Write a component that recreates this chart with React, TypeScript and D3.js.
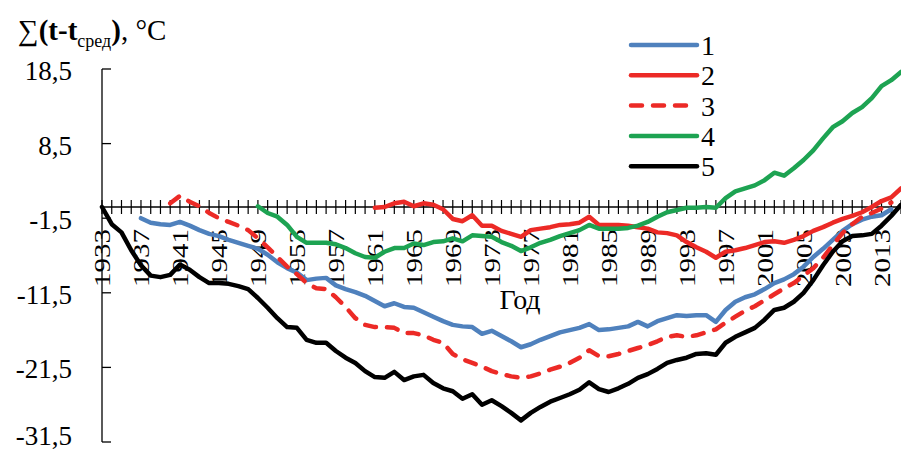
import React from "react";
import * as d3 from "d3";

// Cumulative sums of temperature deviations, °C, one value per year
const years = d3.range(1933, 2016);

const start1 = 1937;
const series1 = [
  -1.5, -2.1, -2.3,
  -2.4, -2.0, -2.5, -3.1, -3.6, -3.9, -4.4, -4.8, -5.2, -5.6,
  -6.4, -7.4, -8.2, -8.8, -9.8, -9.6, -9.5, -10.5, -11.0, -11.4,
  -11.9, -12.6, -13.3, -12.9, -13.4, -13.5, -14.1, -14.7, -15.3, -15.8,
  -16.0, -16.1, -17.0, -16.6, -17.3, -18.0, -18.8, -18.4, -17.8, -17.3,
  -16.8, -16.5, -16.2, -15.7, -16.5, -16.4, -16.2, -16.0, -15.4, -16.0,
  -15.3, -14.9, -14.5, -14.6, -14.5, -14.5, -15.4, -13.8, -12.7, -12.1,
  -11.7, -11.0, -10.2, -9.7, -9.0, -8.0, -6.7, -5.6, -4.4, -3.2,
  -2.3, -1.7, -1.3, -1.1, -0.3,
];

const start2 = 1961;
const series2 = [
  -0.1, 0.0, 0.5, 0.7, 0.1, 0.5, 0.3, -0.3, -1.6,
  -1.9, -1.1, -2.5, -2.5, -3.2, -3.6, -4.0, -3.1, -2.9, -2.7,
  -2.4, -2.3, -2.1, -1.3, -2.4, -2.4, -2.4, -2.5, -2.7, -2.9,
  -3.4, -3.5, -3.8, -4.7, -5.4, -6.0, -6.8, -6.0, -5.8, -5.5,
  -5.1, -4.7, -4.6, -4.8, -4.4, -3.9, -3.2, -2.7, -2.1, -1.6,
  -1.2, -0.7, 0.0, 0.8, 1.3, 2.5,
];

const start3 = 1940;
const series3 = [
  0.5, 1.5, 0.7, 0.1, -0.8, -1.5, -2.0, -2.5, -3.1, -4.2,
  -5.4, -6.7, -8.0, -9.0, -10.2, -10.9, -11.0, -12.1, -13.4, -14.9,
  -15.8, -16.1, -16.1, -16.2, -16.9, -16.9, -17.2, -17.8, -18.2, -19.7,
  -20.4, -20.9, -21.4, -22.0, -22.4, -22.7, -22.9, -22.7, -22.3, -21.8,
  -21.4, -20.9, -20.2, -19.2, -20.0, -20.0, -19.7, -19.3, -18.9, -18.5,
  -18.0, -17.4, -17.2, -17.4, -17.2, -16.8, -16.4, -15.5, -14.7, -13.9,
  -13.3, -12.5, -11.7, -10.9, -10.2, -9.2, -8.2, -6.8, -5.1, -3.5,
  -2.3, -1.3, -0.8, -0.2, 0.6,
];

const start4 = 1949;
const series4 = [
  0.1,
  -0.8, -1.3, -2.4, -4.0, -4.8, -4.8, -4.8, -5.0, -5.5, -6.2,
  -6.7, -6.8, -6.0, -5.5, -5.5, -4.9, -5.1, -4.7, -4.6, -4.2,
  -4.6, -3.8, -3.9, -4.0, -4.7, -5.2, -5.9, -5.4, -4.8, -4.4,
  -3.9, -3.5, -3.1, -2.4, -2.9, -2.9, -2.9, -2.8, -2.5, -2.0,
  -1.3, -0.7, -0.4, -0.1, -0.1, 0.0, -0.1, 1.2, 2.1, 2.5,
  2.9, 3.6, 4.6, 4.2, 5.2, 6.3, 7.6, 9.2, 10.7, 11.5,
  12.6, 13.4, 14.6, 16.2, 17.0, 18.1,
];

const start5 = 1933;
const series5 = [
  0.0, -2.3, -3.4, -5.8, -7.8, -9.2, -9.4,
  -9.1, -7.7, -8.4, -9.4, -10.2, -10.2, -10.3, -10.6, -11.0, -12.2,
  -13.5, -14.9, -16.1, -16.2, -17.8, -18.2, -18.2, -19.3, -20.2, -20.9,
  -22.0, -22.8, -22.9, -22.1, -23.2, -22.7, -22.5, -23.6, -24.3, -24.7,
  -25.7, -25.1, -26.5, -25.9, -26.7, -27.6, -28.6, -27.6, -26.8, -26.1,
  -25.6, -25.1, -24.5, -23.5, -24.4, -24.8, -24.3, -23.7, -22.9, -22.4,
  -21.7, -20.9, -20.5, -20.2, -19.7, -19.6, -19.8, -18.2, -17.4, -16.8,
  -16.2, -15.1, -13.8, -13.5, -12.7, -11.5, -9.8, -7.8, -6.0, -4.6,
  -3.9, -3.8, -3.6, -2.5, -1.2, 0.3,
];

const yTicks = [18.5, 8.5, -1.5, -11.5, -21.5, -31.5];
const xLabelYears = d3.range(1933, 2016, 4);
const legendLabels = ["1", "2", "3", "4", "5"];

const W = 901;
const H = 454;
const FONT = "'Liberation Serif', 'Times New Roman', serif";

const x = d3.scaleLinear().domain([1933, 2015]).range([102, 901]);
const y = d3.scaleLinear().domain([-31.5, 18.5]).range([442, 69]);

type Series = {
  label: string;
  start: number;
  values: number[];
  color: string;
  dash?: string;
};

const seriesList: Series[] = [
  { label: legendLabels[0], start: start1, values: series1, color: "#4F81BD" },
  { label: legendLabels[1], start: start2, values: series2, color: "#EC2A26" },
  { label: legendLabels[2], start: start3, values: series3, color: "#EC2A26", dash: "11 11" },
  { label: legendLabels[3], start: start4, values: series4, color: "#1DA352" },
  { label: legendLabels[4], start: start5, values: series5, color: "#000000" },
];

const line = d3
  .line<[number, number]>()
  .x((d) => x(d[0]))
  .y((d) => y(d[1]));

const fmt = (v: number) => v.toFixed(1).replace(".", ",");

export default function App() {
  const y0 = y(0);
  return (
    <div style={{ position: "absolute", left: 0, top: 0, width: W, height: H, background: "#fff" }}>
      <svg width={W} height={H} style={{ display: "block" }} fontFamily={FONT}>
        <rect width={W} height={H} fill="#fff" />

        {/* axis title */}
        <text x={18} y={40} fontSize={29} fill="#000">
          <tspan>∑</tspan>
          <tspan fontWeight="bold">(t-t</tspan>
          <tspan fontSize={18} dy={7}>сред</tspan>
          <tspan dy={-7} fontWeight="bold">)</tspan>
          <tspan>, °C</tspan>
        </text>

        {/* value axis */}
        <line x1={x(1933)} x2={x(1933)} y1={y(18.5)} y2={y(-31.5)} stroke="#000" strokeWidth={1.3} />
        {yTicks.map((t) => (
          <g key={t}>
            <line x1={x(1933)} x2={x(1933) + 9} y1={y(t)} y2={y(t)} stroke="#000" strokeWidth={1.3} />
            <text x={72} y={Math.min(y(t) + 11, 445)} fontSize={27} textAnchor="end" fill="#000">
              {fmt(t)}
            </text>
          </g>
        ))}

        {/* category axis crossing at zero */}
        <line x1={x(1933)} x2={W} y1={y0} y2={y0} stroke="#000" strokeWidth={1.3} />
        {years.map((yr) => (
          <line key={yr} x1={x(yr)} x2={x(yr)} y1={y0 - 7} y2={y0 + 7} stroke="#000" strokeWidth={1.2} />
        ))}
        {xLabelYears.map((yr) => (
          <text
            key={yr}
            transform={`translate(${x(yr) + 1},${287}) rotate(-90) scale(1,0.78)`}
            fontSize={29}
            textAnchor="start"
            dominantBaseline="central"
            fill="#000"
          >
            {yr}
          </text>
        ))}
        <text x={520} y={309} fontSize={28} textAnchor="middle" fill="#000">
          Год
        </text>

        {/* series */}
        {seriesList.map((s) => {
          const pts: [number, number][] = s.values.map((v, i) => [s.start + i, v]);
          return (
            <path
              key={s.label}
              d={line(pts) ?? ""}
              fill="none"
              stroke={s.color}
              strokeWidth={4.5}
              strokeLinejoin="round"
              strokeLinecap="round"
              strokeDasharray={s.dash}
            />
          );
        })}

        {/* legend */}
        {seriesList.map((s, i) => {
          const ly = 45 + i * 30.3;
          return (
            <g key={s.label}>
              <line
                x1={631}
                x2={697}
                y1={ly}
                y2={ly}
                stroke={s.color}
                strokeWidth={4.5}
                strokeLinecap="round"
                strokeDasharray={s.dash}
              />
              <text x={701} y={ly + 10} fontSize={28} fill="#000">
                {s.label}
              </text>
            </g>
          );
        })}
      </svg>
    </div>
  );
}
